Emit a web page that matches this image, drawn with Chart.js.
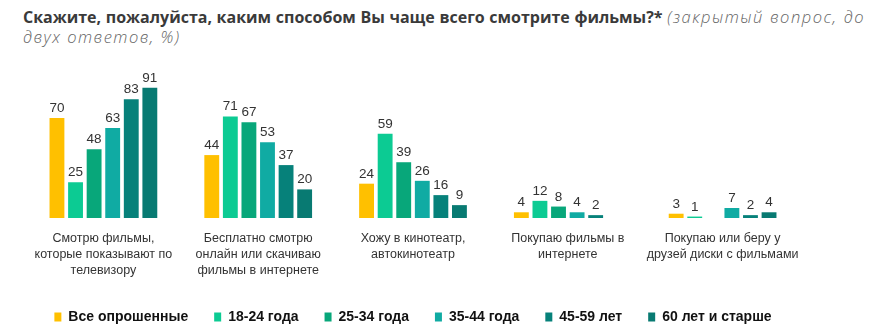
<!DOCTYPE html>
<html>
<head>
<meta charset="utf-8">
<script src="https://cdn.jsdelivr.net/npm/chart.js@4/dist/chart.umd.min.js"></script>
<style>
  body { margin: 0; background: #fff; overflow: hidden; }
  #title {
    position: absolute; left: 23px; top: 7px; width: 842px;
    font-family: "Open Sans", sans-serif;
    font-size: 16px; line-height: 20px; color: #333;
  }
  #title .l1 { text-align: justify; text-align-last: justify; white-space: nowrap; }
  #title b { color: #3a3a3a; font-weight: 700; }
  #title i { color: #666; font-weight: 300; font-size: 16.5px; letter-spacing: 1.5px; }
  #wrap { position: absolute; left: 0; top: 50px; width: 887px; height: 284px; }
</style>
</head>
<body>
<div id="title">
  <div class="l1"><b>Скажите, пожалуйста, каким способом Вы чаще всего смотрите фильмы?*</b> <i>(закрытый вопрос, до</i></div>
  <div><i>двух ответов, %)</i></div>
</div>
<div id="wrap"><canvas id="chart"></canvas></div>
<script>
const categories = [
  ['Смотрю фильмы,', 'которые показывают по', 'телевизору'],
  ['Бесплатно смотрю', 'онлайн или скачиваю', 'фильмы в интернете'],
  ['Хожу в кинотеатр,', 'автокинотеатр'],
  ['Покупаю фильмы в', 'интернете'],
  ['Покупаю или беру у', 'друзей диски с фильмами']
];
const seriesNames = ['Все опрошенные', '18-24 года', '25-34 года', '35-44 года', '45-59 лет', '60 лет и старше'];
const allRespondents = [70, 44, 24, 4, 3];
const age18_24 = [25, 71, 59, 12, 1];
const age25_34 = [48, 67, 39, 8, null];
const age35_44 = [63, 53, 26, 4, 7];
const age45_59 = [83, 37, 16, 2, 2];
const age60plus = [91, 20, 9, null, 4];
const colors = ['#FFC000', '#0CCB93', '#08A77A', '#10ABA3', '#06817A', '#087A72'];

const seriesValues = [allRespondents, age18_24, age25_34, age35_44, age45_59, age60plus];

// value labels above bars
const valueLabels = {
  id: 'valueLabels',
  afterDatasetsDraw(chart) {
    const ctx = chart.ctx;
    ctx.save();
    ctx.font = '13.5px "Liberation Sans", Arial, sans-serif';
    ctx.fillStyle = '#333';
    ctx.textAlign = 'center';
    ctx.textBaseline = 'bottom';
    chart.data.datasets.forEach((ds, i) => {
      chart.getDatasetMeta(i).data.forEach((bar, j) => {
        const v = ds.data[j];
        if (v === null) return;
        ctx.fillText(v, bar.x, bar.y - 3);
      });
    });
    ctx.restore();
  }
};

new Chart(document.getElementById('chart'), {
  type: 'bar',
  data: {
    labels: categories,
    datasets: seriesNames.map((name, i) => ({
      label: name,
      data: seriesValues[i],
      backgroundColor: colors[i],
      categoryPercentage: 0.72,
      barPercentage: 0.8
    }))
  },
  options: {
    responsive: true,
    maintainAspectRatio: false,
    animation: false,
    skipNull: false,
    layout: { padding: { left: 26, right: 87, top: 25, bottom: 0 } },
    scales: {
      x: {
        grid: { display: false, drawTicks: false },
        border: { display: false },
        ticks: {
          color: '#333',
          font: { family: '"Liberation Sans", Arial, sans-serif', size: 12.5, lineHeight: 1.28 },
          maxRotation: 0,
          autoSkip: false,
          padding: 13
        },
        afterFit: (scale) => { scale.height -= 8; }
      },
      y: {
        display: false,
        min: 0,
        max: 100
      }
    },
    plugins: {
      legend: {
        position: 'bottom',
        labels: {
          boxWidth: 7,
          boxHeight: 9,
          padding: 26,
          color: '#111',
          font: { family: '"Liberation Sans", Arial, sans-serif', size: 14, weight: 'bold' }
        }
      },
      tooltip: { enabled: false }
    }
  },
  plugins: [valueLabels]
});
</script>
</body>
</html>
